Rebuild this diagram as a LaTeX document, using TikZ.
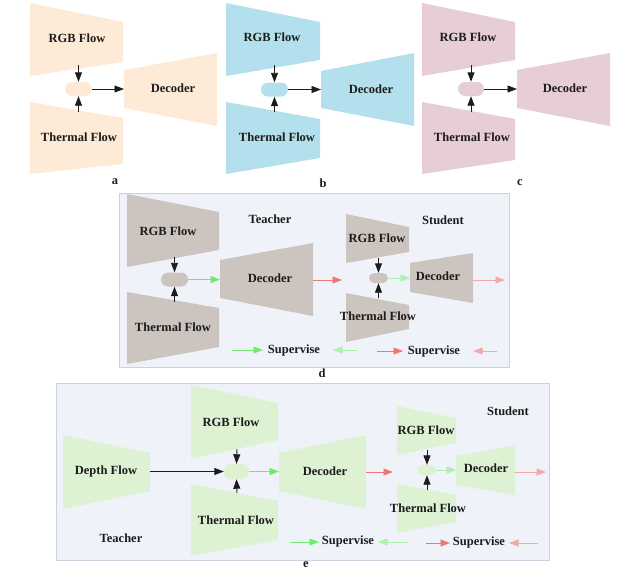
\documentclass[tikz,border=0pt]{standalone}
\usepackage{fontspec}
\setmainfont{Liberation Serif}
\usetikzlibrary{arrows.meta}
\definecolor{cA}{HTML}{FDEAD7}
\definecolor{cB}{HTML}{B4E0EE}
\definecolor{cC}{HTML}{E7CDD5}
\definecolor{cD}{HTML}{CCC4BF}
\definecolor{cE}{HTML}{DDF2D3}
\definecolor{bgP}{HTML}{EFF3F9}
\definecolor{bgB}{HTML}{C9D2DE}
\definecolor{gA}{HTML}{6EEA6E}
\definecolor{gB}{HTML}{ABF0AB}
\definecolor{rA}{HTML}{F27474}
\definecolor{rB}{HTML}{F5AAAA}
\definecolor{ink}{HTML}{1C1C1C}
\newcommand\trapz[7]{\fill[#7] (#1,#2) -- (#4,#5) -- (#4,#6) -- (#1,#3) -- cycle;}
\tikzset{
  lbl/.style={font=\fontsize{12.5}{14}\selectfont\bfseries, inner sep=0pt, text=ink},
  pill/.style={rectangle, inner sep=0pt, draw=none},
  arr/.style={draw=ink, line width=0.9pt, -{Triangle[length=9.5pt,width=7pt]}},
  garr/.style={arr, draw=gA, -{Triangle[length=9.5pt,width=7pt,fill=gA]}},
  lgarr/.style={arr, draw=gB, -{Triangle[length=9.5pt,width=7pt,fill=gB]}},
  rarr/.style={arr, draw=rA, -{Triangle[length=9.5pt,width=7pt,fill=rA]}},
  parr/.style={arr, draw=rB, -{Triangle[length=9.5pt,width=7pt,fill=rB]}},
  frame/.style={fill=bgP, draw=bgB, line width=0.8pt}
}
\begin{document}
\begin{tikzpicture}[x=1pt,y=-1pt]
\useasboundingbox (0,0) rectangle (622,581);
% ---------- panel a ----------
\trapz{30}{3}{76}{123}{22}{62}{cA}
\node[lbl] (a-rgb) at (77,38) {RGB Flow};
\trapz{30}{102}{174}{123}{118}{164}{cA}
\node[lbl] (a-th) at (79,137) {Thermal Flow};
\trapz{124}{70}{108}{217}{53}{126}{cA}
\node[lbl] (a-dec) at (173,88) {Decoder};
\node[pill,fill=cA,rounded corners=7pt,minimum width=27pt,minimum height=14pt] (a-pill) at (78.5,89) {};
\coordinate (a-rgb-s) at (78.5,65);
\coordinate (a-th-n) at (78.5,112);
\coordinate (a-dec-w) at (124,89);
\draw[arr] (a-rgb-s) -- (a-pill.north);
\draw[arr] (a-th-n) -- (a-pill.south);
\draw[arr] (a-pill.east) -- (a-dec-w);
\node[lbl] (a-cap) at (115,182) {a};
% ---------- panel b ----------
\trapz{226}{3}{76}{320}{22}{60}{cB}
\node[lbl] (b-rgb) at (272,37) {RGB Flow};
\trapz{226}{102}{174}{320}{119}{158}{cB}
\node[lbl] (b-th) at (277,137) {Thermal Flow};
\trapz{321}{71}{108}{414}{53}{126}{cB}
\node[lbl] (b-dec) at (371,89) {Decoder};
\node[pill,fill=cB,rounded corners=7pt,minimum width=27pt,minimum height=14pt] (b-pill) at (274.5,89.5) {};
\coordinate (b-rgb-s) at (274.5,65);
\coordinate (b-th-n) at (274.5,112);
\coordinate (b-dec-w) at (321,89.5);
\draw[arr] (b-rgb-s) -- (b-pill.north);
\draw[arr] (b-th-n) -- (b-pill.south);
\draw[arr] (b-pill.east) -- (b-dec-w);
\node[lbl] (b-cap) at (323,183) {b};
% ---------- panel c ----------
\trapz{422}{3}{76}{515}{22}{60}{cC}
\node[lbl] (c-rgb) at (468,37) {RGB Flow};
\trapz{422}{102}{174}{515}{119}{160}{cC}
\node[lbl] (c-th) at (472,137) {Thermal Flow};
\trapz{517}{70}{108}{610}{53}{126}{cC}
\node[lbl] (c-dec) at (565,88) {Decoder};
\node[pill,fill=cC,rounded corners=7pt,minimum width=26pt,minimum height=14pt] (c-pill) at (471,89) {};
\coordinate (c-rgb-s) at (471,65);
\coordinate (c-th-n) at (471,112);
\coordinate (c-dec-w) at (517,89);
\draw[arr] (c-rgb-s) -- (c-pill.north);
\draw[arr] (c-th-n) -- (c-pill.south);
\draw[arr] (c-pill.east) -- (c-dec-w);
\node[lbl] (c-cap) at (520,183) {c};
% ---------- panel d ----------
\draw[frame] (119,193) rectangle (509,367);
\trapz{127}{194}{267}{219}{212}{250}{cD}
\node[lbl] (dt-rgb) at (168,231) {RGB Flow};
\trapz{127}{292}{364}{219}{308}{347}{cD}
\node[lbl] (dt-th) at (173,327) {Thermal Flow};
\trapz{220}{260}{298}{313}{243}{316}{cD}
\node[lbl] (dt-dec) at (270,278) {Decoder};
\node[pill,fill=cD,rounded corners=7pt,minimum width=27pt,minimum height=14pt] (dt-pill) at (174.5,279.5) {};
\coordinate (dt-rgb-s) at (174.5,257);
\coordinate (dt-th-n) at (174.5,302);
\coordinate (dt-dec-w) at (220,279.5);
\coordinate (dt-dec-e) at (313,280);
\coordinate (dt-out) at (342,280);
\draw[arr] (dt-rgb-s) -- (dt-pill.north);
\draw[arr] (dt-th-n) -- (dt-pill.south);
\draw[garr] (dt-pill.east) -- (dt-dec-w);
\draw[rarr] (dt-dec-e) -- (dt-out);
\node[lbl] (dt-lab) at (270,219) {Teacher};
\trapz{346}{214}{263}{409}{227}{252}{cD}
\node[lbl] (ds-rgb) at (377,238) {RGB Flow};
\trapz{346}{293}{342}{409}{305}{329}{cD}
\node[lbl] (ds-th) at (378,316) {Thermal Flow};
\trapz{410}{263}{292}{473}{253}{303}{cD}
\node[lbl] (ds-dec) at (438,276) {Decoder};
\node[pill,fill=cD,rounded corners=5pt,minimum width=19pt,minimum height=10pt] (ds-pill) at (378.5,278) {};
\coordinate (ds-rgb-s) at (378.5,258);
\coordinate (ds-th-n) at (378.5,298);
\coordinate (ds-dec-w) at (410,278);
\coordinate (ds-dec-e) at (473,280);
\coordinate (ds-out) at (505,280);
\draw[arr] (ds-rgb-s) -- (ds-pill.north);
\draw[arr] (ds-th-n) -- (ds-pill.south);
\draw[lgarr] (ds-pill.east) -- (ds-dec-w);
\draw[parr] (ds-dec-e) -- (ds-out);
\node[lbl] (ds-lab) at (443,220) {Student};
\node[lbl] (d-sup1) at (294,350) {Supervise};
\node[lbl] (d-sup2) at (434,351) {Supervise};
\coordinate (d-l1a) at (232,350); \coordinate (d-l1b) at (263,350);
\coordinate (d-l2a) at (357,350); \coordinate (d-l2b) at (333,350);
\coordinate (d-l3a) at (377,351); \coordinate (d-l3b) at (403,351);
\coordinate (d-l4a) at (497,351); \coordinate (d-l4b) at (473,351);
\draw[garr] (d-l1a) -- (d-l1b);
\draw[lgarr] (d-l2a) -- (d-l2b);
\draw[rarr] (d-l3a) -- (d-l3b);
\draw[parr] (d-l4a) -- (d-l4b);
\node[lbl] (d-cap) at (322,373) {d};
% ---------- panel e ----------
\draw[frame] (56,383) rectangle (549,560);
\trapz{63}{435}{509}{150}{453}{491}{cE}
\node[lbl] (e-dep) at (106,471) {Depth Flow};
\trapz{191}{385}{459}{278}{403}{440}{cE}
\node[lbl] (et-rgb) at (231,422) {RGB Flow};
\trapz{191}{484}{556}{278}{501}{540}{cE}
\node[lbl] (et-th) at (236,520) {Thermal Flow};
\trapz{279}{453}{491}{366}{435}{509}{cE}
\node[lbl] (et-dec) at (325,471) {Decoder};
\node[pill,fill=cE,rounded corners=7pt,minimum width=25pt,minimum height=15pt] (et-pill) at (236.5,471.5) {};
\coordinate (e-dep-e) at (150,471.5);
\coordinate (et-rgb-s) at (237,449);
\coordinate (et-th-n) at (237,493);
\coordinate (et-dec-w) at (279,471.5);
\coordinate (et-dec-e) at (366,472);
\coordinate (et-out) at (393,472);
\draw[arr] (e-dep-e) -- (et-pill.west);
\draw[arr] (et-rgb-s) -- (et-pill.north);
\draw[arr] (et-th-n) -- (et-pill.south);
\draw[garr] (et-pill.east) -- (et-dec-w);
\draw[rarr] (et-dec-e) -- (et-out);
\node[lbl] (et-lab) at (121,538) {Teacher};
\trapz{397}{406}{455}{456}{418}{443}{cE}
\node[lbl] (es-rgb) at (426,430) {RGB Flow};
\trapz{397}{484}{533}{456}{495}{522}{cE}
\node[lbl] (es-th) at (428,508) {Thermal Flow};
\trapz{456}{456}{485}{515}{445}{495}{cE}
\node[lbl] (es-dec) at (486,468) {Decoder};
\node[pill,fill=cE,rounded corners=5pt,minimum width=18pt,minimum height=10pt] (es-pill) at (427,470) {};
\coordinate (es-rgb-s) at (427,450);
\coordinate (es-th-n) at (427,490);
\coordinate (es-dec-w) at (456,470);
\coordinate (es-dec-e) at (515,472);
\coordinate (es-out) at (546,472);
\draw[arr] (es-rgb-s) -- (es-pill.north);
\draw[arr] (es-th-n) -- (es-pill.south);
\draw[lgarr] (es-pill.east) -- (es-dec-w);
\draw[parr] (es-dec-e) -- (es-out);
\node[lbl] (es-lab) at (508,411) {Student};
\node[lbl] (e-sup1) at (348,541) {Supervise};
\node[lbl] (e-sup2) at (479,542) {Supervise};
\coordinate (e-l1a) at (290,542); \coordinate (e-l1b) at (319,542);
\coordinate (e-l2a) at (407,542); \coordinate (e-l2b) at (378,542);
\coordinate (e-l3a) at (426,543); \coordinate (e-l3b) at (450,543);
\coordinate (e-l4a) at (538,543); \coordinate (e-l4b) at (509,543);
\draw[garr] (e-l1a) -- (e-l1b);
\draw[lgarr] (e-l2a) -- (e-l2b);
\draw[rarr] (e-l3a) -- (e-l3b);
\draw[parr] (e-l4a) -- (e-l4b);
\node[lbl] (e-cap) at (306,565) {e};
\end{tikzpicture}
\end{document}
